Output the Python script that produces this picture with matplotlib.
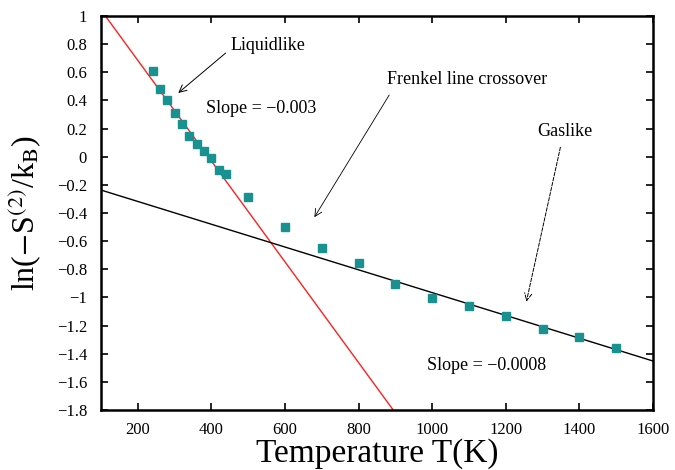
import numpy as np
import matplotlib
matplotlib.use("Agg")
import matplotlib.pyplot as plt

# data
temp = [240, 260, 280, 300, 320, 340, 360, 380, 400, 420, 440,
        500, 600, 700, 800, 900, 1000, 1100, 1200, 1300, 1400, 1500]
ln_s2 = [0.61, 0.48, 0.40, 0.31, 0.23, 0.15, 0.09, 0.04, -0.01, -0.095, -0.12,
         -0.285, -0.50, -0.647, -0.758, -0.905, -1.006, -1.059, -1.132, -1.227, -1.279, -1.362]

# fitted lines (endpoints)
liq_T = [112, 894]
liq_y = [1.0, -1.8]
gas_T = [100, 1600]
gas_y = [-0.237, -1.452]

xticks = [200, 400, 600, 800, 1000, 1200, 1400, 1600]
yticks = [1, 0.8, 0.6, 0.4, 0.2, 0, -0.2, -0.4, -0.6, -0.8, -1, -1.2, -1.4, -1.6, -1.8]

def fmt(v):
    return ('%g' % v).replace('-', '\u2212')

plt.rcParams['font.family'] = ['Liberation Serif', 'DejaVu Serif']
plt.rcParams['mathtext.fontset'] = 'stix'

fig = plt.figure(figsize=(6.75, 4.7), dpi=100)
ax = fig.add_axes([0.1496, 0.1277, 0.8178, 0.8383])

ax.plot(liq_T, liq_y, color='#ff2020', lw=1.0)
ax.plot(gas_T, gas_y, color='black', lw=1.0)
ax.plot(temp, ln_s2, 's', color='#1a9191', markersize=6.2, mec='#1a9191')

ax.set_xlim(100, 1600)
ax.set_ylim(-1.8, 1.0)
ax.set_xticks(xticks)
ax.set_xticklabels([fmt(v) for v in xticks], fontsize=12)
ax.set_yticks(yticks)
ax.set_yticklabels([fmt(v) for v in yticks], fontsize=12)
ax.tick_params(direction='in', length=5, width=1.2, top=True, right=True, pad=10)
ax.tick_params(axis='x', pad=9)
for sp in ax.spines.values():
    sp.set_linewidth(1.8)

ax.set_xlabel('Temperature T(K)', fontsize=24, labelpad=0)
ax.set_ylabel(r'ln($-$S$^{(2)}$/k$_{\mathrm{B}}$)', fontsize=23, labelpad=10)

# annotations
ax.annotate('Liquidlike', xy=(310, 0.453), xytext=(452, 0.79),
            fontsize=13, ha='left', va='center',
            arrowprops=dict(arrowstyle='->', color='black', lw=0.7,
                            relpos=(0, 0.3), shrinkA=2, shrinkB=0))
ax.text(535, 0.34, 'Slope = \u22120.003', fontsize=13, ha='center', va='center')
ax.annotate('Frenkel line crossover', xy=(680, -0.43), xytext=(1096, 0.552),
            fontsize=13, ha='center', va='center',
            arrowprops=dict(arrowstyle='->', color='black', lw=0.6,
                            relpos=(0.04, 0), shrinkA=4, shrinkB=0))
ax.annotate('Gaslike', xy=(1256, -1.03), xytext=(1360, 0.176),
            fontsize=13, ha='center', va='center',
            arrowprops=dict(arrowstyle='->', color='black', lw=0.7, ls='--',
                            relpos=(0.45, 0), shrinkA=3, shrinkB=0))
ax.text(1148, -1.487, 'Slope = \u22120.0008', fontsize=13, ha='center', va='center')

fig.savefig('out.png', dpi=100)
